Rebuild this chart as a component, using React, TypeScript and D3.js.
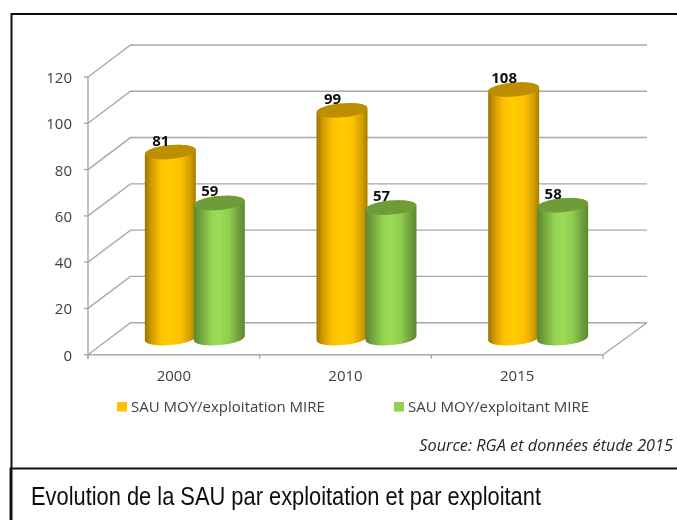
import React from "react";
import * as d3 from "d3";

const categories = ["2000", "2010", "2015"];
const seriesNames = ["SAU MOY/exploitation MIRE", "SAU MOY/exploitant MIRE"];
const exploitation = [81, 99, 108];
const exploitant = [59, 57, 58];
const yTicks = [0, 20, 40, 60, 80, 100, 120];

const W = 677, H = 520;
const axisX0 = 88, axisX1 = 603, axisY0 = 354.7, axisY1 = 77;
const depthX = 42.5, depthY = -32;
const GRID = "#a8a8a8";
const TEXT = "#404040";
const SANS = "'Open Sans', Lato, sans-serif";

const y = d3.scaleLinear().domain([0, 120]).range([axisY0, axisY1]);
const x = d3.scaleBand<string>().domain(categories).range([axisX0, axisX1]);

const barDepthTop = -15.2;
const barDepthBase = -16.6;
const barDepthX = 21;
const barWidth = 51;
const rx = barWidth / 2, ry = 7, tilt = 2.3;
const rot = (-Math.atan2(tilt, rx) * 180) / Math.PI;

function cylinder(cx: number, yTop: number, yBase: number) {
  const l = cx - rx, r = cx + rx;
  const arc = (ex: number, ey: number, sweep: number) =>
    `A${rx},${ry} ${rot} 0 ${sweep} ${ex},${ey}`;
  return `M${l},${yTop + tilt}L${l},${yBase + tilt}${arc(r, yBase - tilt, 0)}L${r},${yTop - tilt}${arc(l, yTop + tilt, 0)}Z`;
}

const seriesStyle = [
  { grad: "gradO", top: "#bd8e00", swatch: "#ffc000" },
  { grad: "gradG", top: "#6d9c38", swatch: "#92d050" },
];

function Gradient({ id, stops }: { id: string; stops: [number, string][] }) {
  return (
    <linearGradient id={id} x1="0" x2="1" y1="0" y2="0">
      {stops.map(([o, c]) => (
        <stop key={o} offset={o} stopColor={c} />
      ))}
    </linearGradient>
  );
}

export default function App() {
  const series = [exploitation, exploitant];
  return (
    <svg
      width={W}
      height={H}
      viewBox={`0 0 ${W} ${H}`}
      style={{ position: "absolute", left: 0, top: 0, background: "#fff" }}
    >
      <defs>
        <Gradient
          id="gradO"
          stops={[
            [0, "#9c7400"],
            [0.14, "#d39f00"],
            [0.3, "#fdbf00"],
            [0.5, "#ffce05"],
            [0.72, "#fdbf00"],
            [0.9, "#cf9c00"],
            [1, "#a67c00"],
          ]}
        />
        <Gradient
          id="gradG"
          stops={[
            [0, "#5b8530"],
            [0.14, "#74a53f"],
            [0.35, "#96d552"],
            [0.5, "#9cdc58"],
            [0.7, "#8fcb4e"],
            [0.9, "#6c9a3a"],
            [1, "#5f8a32"],
          ]}
        />
        <filter id="soft" x="-2%" y="-2%" width="104%" height="104%">
          <feGaussianBlur stdDeviation="0.35" />
        </filter>
      </defs>
      <g filter="url(#soft)">
        <path d="M11.5,520V14H677" fill="none" stroke="#111" strokeWidth={2} />
        <path d="M10.5,520V468.5H677" fill="none" stroke="#111" strokeWidth={1.8} />

        {yTicks.map((t) => (
          <path
            key={t}
            d={`M${axisX0},${y(t)}L${axisX0 + depthX},${y(t) + depthY}H${axisX0 + depthX + (axisX1 - axisX0) + 1.5}`}
            fill="none"
            stroke={GRID}
            strokeWidth={1.4}
          />
        ))}
        <path
          d={`M${axisX1},${axisY0}L${axisX1 + depthX + 1.5},${axisY0 + depthY}`}
          fill="none"
          stroke={GRID}
          strokeWidth={1.4}
        />

        <path d={`M${axisX0},${axisY1}V${axisY0 + 4}`} fill="none" stroke={GRID} strokeWidth={1.4} />
        <path d={`M${axisX0},${axisY0}H${axisX1}`} fill="none" stroke={GRID} strokeWidth={1.4} />
        {yTicks.map((t) => (
          <path key={t} d={`M${axisX0 - 4},${y(t)}H${axisX0}`} stroke={GRID} strokeWidth={1.4} />
        ))}
        {[...categories.map((c) => x(c)!), axisX1].map((v) => (
          <path key={v} d={`M${v},${axisY0}v4`} stroke={GRID} strokeWidth={1.4} />
        ))}

        {yTicks.map((t) => (
          <text key={t} x={72} y={y(t) + 6} textAnchor="end" fontFamily={SANS} fontSize={15} fill={TEXT}>
            {t}
          </text>
        ))}
        {categories.map((c) => (
          <text
            key={c}
            x={x(c)! + x.bandwidth() / 2}
            y={381}
            textAnchor="middle"
            fontFamily={SANS}
            fontSize={15}
            fill={TEXT}
          >
            {c}
          </text>
        ))}

        {categories.map((c, i) => {
          const groupCx = x(c)! + x.bandwidth() / 2 + barDepthX;
          return (
            <g key={c}>
              {series.map((vals, s) => {
                const cx = groupCx + (s === 0 ? -24.5 : 24.5);
                const yBase = y(0) + barDepthBase;
                const yTop = y(vals[i]) + barDepthTop;
                const st = seriesStyle[s];
                return (
                  <g key={s}>
                    <path d={cylinder(cx, yTop, yBase)} fill={`url(#${st.grad})`} />
                    <ellipse
                      cx={cx}
                      cy={yTop}
                      rx={rx}
                      ry={ry}
                      fill={st.top}
                      transform={`rotate(${rot} ${cx} ${yTop})`}
                    />
                  </g>
                );
              })}
            </g>
          );
        })}

        {categories.map((c, i) => {
          const groupCx = x(c)! + x.bandwidth() / 2 + barDepthX;
          return series.map((vals, s) => (
            <text
              key={`${c}${s}`}
              x={groupCx + (s === 0 ? -24.5 : 24.5) - 9.5}
              y={y(vals[i]) + barDepthTop - 6.5}
              textAnchor="middle"
              fontFamily={SANS}
              fontSize={15}
              fontWeight={700}
              fill="#111"
            >
              {vals[i]}
            </text>
          ));
        })}

        {seriesNames.map((n, s) => {
          const lx = [117, 394][s];
          return (
            <g key={n}>
              <rect x={lx} y={402} width={10} height={9.5} fill={seriesStyle[s].swatch} />
              <text x={lx + 14} y={412} fontFamily={SANS} fontSize={15} fill={TEXT}>
                {n}
              </text>
            </g>
          );
        })}

        <text
          x={673}
          y={451}
          textAnchor="end"
          fontFamily={SANS}
          fontSize={16.3}
          fontStyle="italic"
          fill="#262626"
        >
          Source: RGA et données étude 2015
        </text>
        <text
          x={31}
          y={505}
          fontFamily="'Liberation Sans', Arial, sans-serif"
          fontSize={25}
          textLength={510}
          lengthAdjust="spacingAndGlyphs"
          fill="#111"
        >
          Evolution de la SAU par exploitation et par exploitant
        </text>
      </g>
    </svg>
  );
}
